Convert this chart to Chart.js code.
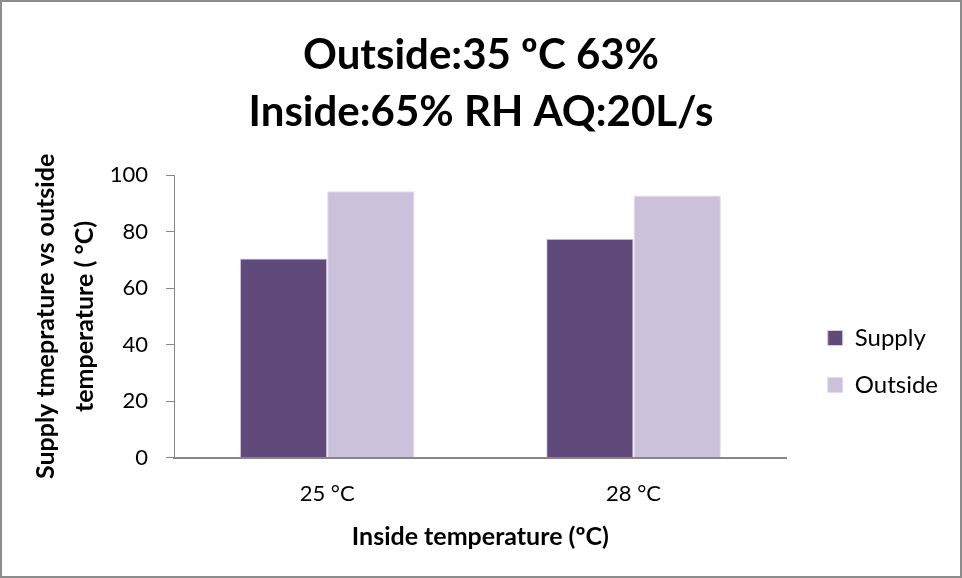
<!DOCTYPE html>
<html>
<head>
<meta charset="utf-8">
<script src="https://cdn.jsdelivr.net/npm/chart.js@4/dist/chart.umd.min.js"></script>
<style>
  html, body { margin: 0; padding: 0; background: #fff; }
  #wrap { width: 958px; height: 574px; border: 2px solid #8c8c8c; position: relative; }
</style>
</head>
<body>
<div id="wrap"><canvas id="tempChart" width="958" height="574"></canvas></div>
<script>
// values
var categories = ["25 °C", "28 °C"];
var supplyValues = [70.5, 77.5];
var outsideValues = [94.3, 92.8];
var seriesNames = ["Supply", "Outside"];

var fontFamily = "Lato, 'Open Sans', sans-serif";

// move the legend block a bit, the way the original sits next to the plot
var legendShift = {
    id: "legendShift",
    afterLayout: function (chart) {
        var l = chart.legend;
        l.left += 18; l.right += 18;
        l.top += 72; l.bottom += 72;
    }
};

var ctx = document.getElementById("tempChart").getContext("2d");

var myChart = new Chart(ctx, {
    type: "bar",
    data: {
        labels: categories,
        datasets: [
            {
                label: seriesNames[0],
                data: supplyValues,
                backgroundColor: "#604a7b",
                borderColor: "#d6cce3",
                borderWidth: 1,
                borderSkipped: "bottom",
            },
            {
                label: seriesNames[1],
                data: outsideValues,
                backgroundColor: "#ccc1da",
                borderColor: "#e4dced",
                borderWidth: 1,
                borderSkipped: "bottom",
            },
        ],
    },
    plugins: [legendShift],
    options: {
        responsive: false,
        animation: false,
        layout: {
            padding: { left: 30, right: 30, top: 25, bottom: 24 }
        },
        datasets: {
            bar: {
                categoryPercentage: 0.57,
                barPercentage: 1.0,
            }
        },
        scales: {
            x: {
                grid: { display: false },
                border: { display: true, color: "#868686", width: 2 },
                ticks: { color: "#000", font: { family: fontFamily, size: 22 }, padding: 15 },
                title: {
                    display: true,
                    text: "Inside temperature (ºC)",
                    color: "#000",
                    font: { family: fontFamily, size: 25, weight: "bold" },
                    padding: { top: 0, bottom: 0 }
                }
            },
            y: {
                min: 0,
                max: 100,
                afterFit: function (scale) { scale.width = 142; },
                ticks: { stepSize: 20, color: "#000", font: { family: fontFamily, size: 22 }, padding: 18 },
                grid: { drawOnChartArea: false, tickLength: 8, color: "#868686", lineWidth: 1 },
                border: { display: true, color: "#868686", width: 1 },
                title: {
                    display: true,
                    text: ["Supply tmeprature vs outside", "temperature ( °C)"],
                    color: "#000",
                    font: { family: fontFamily, size: 25, weight: "bold", lineHeight: 1.55 },
                    padding: { top: -5, bottom: 0 }
                }
            },
        },
        plugins: {
            title: {
                display: true,
                text: ["Outside:35 ºC 63%", "Inside:65% RH AQ:20L/s"],
                color: "#000",
                font: { family: fontFamily, size: 42, weight: "bold", lineHeight: 1.36 },
                padding: { top: 0, bottom: 34 }
            },
            legend: {
                position: "right",
                labels: {
                    color: "#000",
                    font: { family: fontFamily, size: 24 },
                    boxWidth: 15,
                    boxHeight: 15,
                    padding: 23
                }
            },
            tooltip: { enabled: false }
        }
    },
});
</script>
</body>
</html>
